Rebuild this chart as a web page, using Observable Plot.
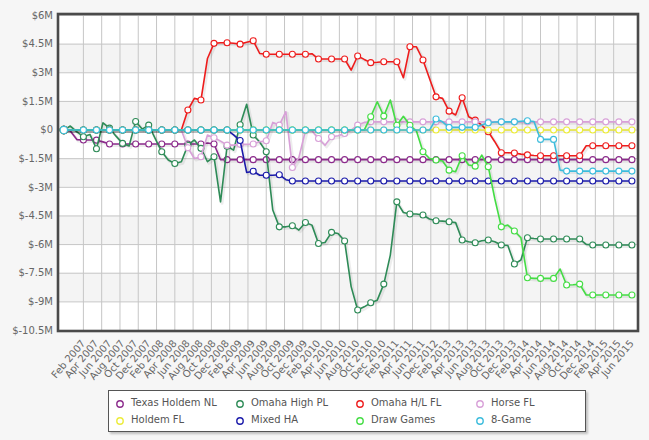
<!DOCTYPE html>
<html><head><meta charset="utf-8">
<script src="https://cdn.jsdelivr.net/npm/d3@7"></script>
<script src="https://cdn.jsdelivr.net/npm/@observablehq/plot@0.6"></script>
<style>
html,body{margin:0;padding:0;background:#f6f6f6;}
body{width:649px;height:440px;position:relative;overflow:hidden;font-family:"DejaVu Sans",Verdana,sans-serif;}
#chart svg{display:block;}
#legend{position:absolute;left:108px;top:390px;width:476px;height:40px;background:#fff;border:1px solid #555;box-shadow:2px 2px 2px rgba(0,0,0,0.22);}
.item{position:absolute;font-size:10px;color:#555;height:12px;line-height:12px;white-space:nowrap;}
.item svg{position:absolute;left:-6px;top:1px;}
.item span{position:absolute;left:11px;top:0;}
</style></head>
<body>
<div id="chart"></div>
<div id="legend"></div>
<script>
// Month categories (monthly points; labels every second month)
const months = [
 "Nov 2006","Dec 2006",
 "Jan 2007","Feb 2007","Mar 2007","Apr 2007","May 2007","Jun 2007","Jul 2007","Aug 2007","Sep 2007","Oct 2007","Nov 2007","Dec 2007",
 "Jan 2008","Feb 2008","Mar 2008","Apr 2008","May 2008","Jun 2008","Jul 2008","Aug 2008","Sep 2008","Oct 2008","Nov 2008","Dec 2008",
 "Jan 2009","Feb 2009","Mar 2009","Apr 2009","May 2009","Jun 2009","Jul 2009","Aug 2009","Sep 2009","Oct 2009","Nov 2009","Dec 2009",
 "Jan 2010","Feb 2010","Mar 2010","Apr 2010","May 2010","Jun 2010","Jul 2010","Aug 2010","Sep 2010","Oct 2010","Nov 2010","Dec 2010",
 "Jan 2011","Feb 2011","Mar 2011","Apr 2011","May 2011","Jun 2011",
 "Nov 2012","Dec 2012",
 "Jan 2013","Feb 2013","Mar 2013","Apr 2013","May 2013","Jun 2013","Jul 2013","Aug 2013","Sep 2013","Oct 2013","Nov 2013","Dec 2013",
 "Jan 2014","Feb 2014","Mar 2014","Apr 2014","May 2014","Jun 2014","Jul 2014","Aug 2014","Sep 2014","Oct 2014","Nov 2014","Dec 2014",
 "Jan 2015","Feb 2015","Mar 2015","Apr 2015","May 2015","Jun 2015"
];
const tickLabels = [
 "Feb 2007","Apr 2007","Jun 2007","Aug 2007","Oct 2007","Dec 2007",
 "Feb 2008","Apr 2008","Jun 2008","Aug 2008","Oct 2008","Dec 2008",
 "Feb 2009","Apr 2009","Jun 2009","Aug 2009","Oct 2009","Dec 2009",
 "Feb 2010","Apr 2010","Jun 2010","Aug 2010","Oct 2010","Dec 2010",
 "Feb 2011","Apr 2011","Jun 2011","Dec 2012",
 "Feb 2013","Apr 2013","Jun 2013","Aug 2013","Oct 2013","Dec 2013",
 "Feb 2014","Apr 2014","Jun 2014","Aug 2014","Oct 2014","Dec 2014",
 "Feb 2015","Apr 2015","Jun 2015"
];
const yTicks = [6, 4.5, 3, 1.5, 0, -1.5, -3, -4.5, -6, -7.5, -9, -10.5];
const yBands = [[3, 4.5], [0, 1.5], [-3, -1.5], [-6, -4.5], [-9, -7.5]];

const seriesNames = ["Texas Holdem NL","Omaha High PL","Omaha H/L FL","Horse FL","Holdem FL","Mixed HA","Draw Games","8-Game"];
const seriesColors = ["#8b2a8b","#2e8b57","#ee1c1c","#d8a0d8","#ecec3a","#1a1aaa","#44dd44","#3cbcdc"];

// values in $M, one per month
const texasHoldemNL = [0,-0.05,-0.5,-0.52,-0.52,-0.53,-0.62,-0.73,
 -0.73,-0.73,-0.73,-0.73,-0.73,-0.73,-0.73,-0.73,-0.73,-0.73,-0.73,-0.73,-0.73,-0.73,-0.68,-0.73,
 -1.55,-1.55,-1.55,-1.55,-1.55,-1.55,-1.55,-1.55,-1.55,-1.55,-1.55,-1.55,-1.55,-1.55,-1.55,-1.55,
 -1.55,-1.55,-1.55,-1.55,-1.55,-1.55,-1.55,-1.55,-1.55,-1.55,-1.55,-1.55,-1.55,-1.55,-1.55,-1.55,
 -1.55,-1.55,-1.55,-1.55,-1.55,-1.55,-1.55,-1.55,-1.55,-1.55,-1.55,-1.55,-1.55,-1.55,-1.55,-1.55,
 -1.55,-1.55,-1.55,-1.55,-1.55,-1.55,-1.55,-1.55,-1.55,-1.55,-1.55,-1.55,-1.55,-1.55,-1.55,-1.55];
const omahaHighPL = [0,0.21,-0.1,-0.35,-0.23,-0.98,0.38,0.1,-0.32,-0.7,-0.83,0.45,0.05,0.26,-0.45,-1.14,
 -1.57,-1.75,-1.66,-0.79,-0.52,-0.96,-1.66,-1.4,-3.76,-0.85,-1.05,0.28,1.35,-0.26,-0.63,-1.14,
 -4.19,-5.07,-5.07,-5.01,-5.24,-4.84,-4.98,-5.94,-5.89,-5.36,-5.42,-5.81,-8.2,-9.43,-9.26,-9.05,
 -8.91,-8.07,-6.55,-3.76,-4.32,-4.4,-4.4,-4.45,-4.66,-4.75,-4.77,-4.8,-4.85,-5.76,-5.85,-5.9,
 -5.8,-5.76,-5.85,-6.02,-6.05,-7.02,-6.81,-5.64,-5.68,-5.71,-5.71,-5.71,-5.71,-5.71,-5.71,-5.71,
 -5.99,-6.02,-6.02,-6.02,-6.02,-6.02,-6.02,-6.02];
const omahaHLFL = [0,0,0,0,0,0,0,0,0,0,0,0,0,0,0,0,0,0,0,
 1.05,1.66,1.57,3.75,4.54,4.57,4.57,4.55,4.5,4.6,4.68,4.01,
 3.97,3.97,3.97,3.97,3.97,3.97,3.97,4.0,3.72,3.72,3.72,3.72,3.72,3.14,3.88,3.7,3.53,3.55,3.58,3.58,
 3.58,2.74,4.36,4.36,3.67,2.7,1.74,1.66,0.99,0.79,1.69,0.7,0.52,0.26,-0.09,-0.61,-1.19,-1.19,-1.2,
 -1.26,-1.3,-1.33,-1.35,-1.35,-1.35,-1.35,-1.35,-1.35,-1.35,
 -0.82,-0.82,-0.82,-0.82,-0.82,-0.82,-0.82,-0.82];
const horseFL = [0,0,0,0,0,0,0,0,0,0,0,0,0,0,0,0,0,0,0,
 -0.93,-1.49,-1.4,-0.26,-0.4,-0.58,-0.79,-0.79,-0.75,-0.75,-0.73,-0.61,-0.56,0.4,0.26,0.96,-1.96,
 -1.43,-0.04,-0.04,-0.44,-0.8,-0.35,-0.3,-0.18,0.0,0.26,0.4,
 0.43,0.43,0.43,0.43,0.43,0.43,0.43,0.43,0.43,0.43,0.43,0.43,0.43,0.43,0.43,0.43,0.43,0.43,0.43,0.43,
 0.43,0.43,0.43,0.43,0.43,0.43,0.43,0.43,0.43,0.43,0.43,0.43,0.43,0.43,0.43,0.43,0.43,0.43,0.43,0.43,0.43];
const holdemFL = [0,0,0,0,0,0,0,0,0,0,0,0,0,0,0,0,0,0,0,0,0,0,0,0,0,0,0,0,0,0,0,0,0,0,0,0,0,0,0,0,0,0,0,0,
 0,0,0,0,0,0,0,0,0,0,0,0,0,0,0,0,0,0,0,0,0,0,0,0,0,0,0,0,0,0,0,0,0,0,0,0,0,0,0,0,0,0,0,0];
const mixedHA = [0,0,0,0,0,0,0,0,0,0,0,0,0,0,0,0,0,0,0,0,0,0,0,0,0,0,
 -0.25,-0.55,-2.22,-2.16,-2.37,-2.37,-2.37,-2.34,-2.6,-2.67,
 -2.67,-2.67,-2.67,-2.67,-2.67,-2.67,-2.67,-2.67,-2.67,-2.67,-2.67,-2.67,-2.67,-2.67,-2.67,-2.67,-2.67,-2.67,-2.67,-2.67,
 -2.67,-2.67,-2.67,-2.67,-2.67,-2.67,-2.67,-2.67,-2.67,-2.67,-2.67,-2.67,-2.67,-2.67,-2.67,-2.67,-2.67,-2.67,-2.67,-2.67,
 -2.67,-2.67,-2.67,-2.67,-2.67,-2.67,-2.67,-2.67,-2.67,-2.67,-2.67,-2.67];
const drawGames = [0,0,0,0,0,0,0,0,0,0,0,0,0,0,0,0,0,0,0,0,0,0,0,0,0,0,0,0,0,0,0,0,0,0,0,0,0,0,0,0,0,0,0,0,0,0,0,
 0.7,1.48,0.73,1.57,0.25,0.72,0.25,-0.05,-1.14,-1.49,-1.57,-1.62,-2.1,-2.18,-1.35,-1.83,-1.89,-1.31,-1.92,
 -3.6,-5.07,-4.98,-5.29,-5.64,-7.74,-7.77,-7.77,-7.77,-7.77,-7.28,-8.12,-8.1,-8.07,
 -8.64,-8.64,-8.64,-8.64,-8.64,-8.64,-8.64,-8.64];
const eightGame = [0,0,0,0,0,0,0,0,0,0,0,0,0,0,0,0,0,0,0,0,0,0,0,0,0,0,0,0,0,0,0,0,0,0,0,0,0,0,0,0,
 0,0,0,0,0,0,0,0,0,0,0,0,0,0,0,0,0,
 0.58,0.43,0.14,0.14,0.14,0.14,0.14,0.26,0.38,0.42,0.43,0.43,0.43,0.46,0.49,0.45,-0.49,-0.49,-0.49,-2.1,
 -2.15,-2.15,-2.15,-2.15,-2.15,-2.15,-2.15,-2.15,-2.15,-2.15,-2.15];

const seriesValues = [texasHoldemNL, omahaHighPL, omahaHLFL, horseFL, holdemFL, mixedHA, drawGames, eightGame];

const tickIdx = tickLabels.map(l => months.indexOf(l));
const gridIdx = d3.range(30).map(k => 3 + k * 2.8);
const markerIdx = new Set([0, ...tickIdx]);

const W = 649, H = 388;
const marks = [
  Plot.frame({fill: "#fff"}),
  Plot.rect(yBands, {y1: d => d[0], y2: d => d[1], fill: "#f4f4f4"}),
  Plot.ruleX(gridIdx, {stroke: "#c6c6c6", strokeWidth: 1}),
  Plot.ruleY(yTicks, {stroke: "#c6c6c6", strokeWidth: 1}),
];
seriesNames.forEach((name, s) => {
  const data = seriesValues[s].map((v, i) => ({i, v}));
  const pts = data.filter(d => markerIdx.has(d.i));
  const color = seriesColors[s];
  marks.push(
    Plot.line(data, {x: "i", y: "v", stroke: "#000", strokeOpacity: 0.07, strokeWidth: 3, dx: 1.5, dy: 1.5}),
    Plot.line(data, {x: "i", y: "v", stroke: color, strokeWidth: 1.6}),
    Plot.dot(pts, {x: "i", y: "v", r: d => d.i === 0 ? 3 : 2, fill: "#fff", stroke: color, strokeWidth: 1.1})
  );
});
marks.push(
  Plot.frame({stroke: "#4a4a4a", strokeWidth: 2.6, insetTop: -1.5, insetBottom: -0.5}),
  Plot.axisY(yTicks, {tickSize: 0, tickPadding: 5, label: null, tickFormat: v => v === 0 ? "$0" : `$${v}M`}),
  Plot.axisX(tickIdx, {tickSize: 0, tickPadding: 11, tickRotate: -50, label: null, tickFormat: i => months[i]})
);

const chart = Plot.plot({
  width: W, height: H,
  marginTop: 15, marginBottom: H - 330, marginLeft: 57.5, marginRight: 11.5,
  x: {domain: [-0.89, 87.93], label: null},
  y: {domain: [-10.5, 6], label: null},
  style: {background: "transparent", fontFamily: "'DejaVu Sans', Verdana, sans-serif", fontSize: "10px", color: "#666"},
  marks
});
document.getElementById("chart").appendChild(chart);

const legend = document.getElementById("legend");
seriesNames.forEach((name, s) => {
  const col = s % 4, row = Math.floor(s / 4);
  const el = document.createElement("div");
  el.className = "item";
  el.style.left = (11 + 120 * col) + "px";
  el.style.top = (6 + 16.6 * row) + "px";
  el.innerHTML = `<svg width="12" height="12"><circle cx="6" cy="6" r="3.2" fill="#fff" stroke="${seriesColors[s]}" stroke-width="1.4"/></svg><span>${name}</span>`;
  legend.appendChild(el);
});
</script>
</body></html>
